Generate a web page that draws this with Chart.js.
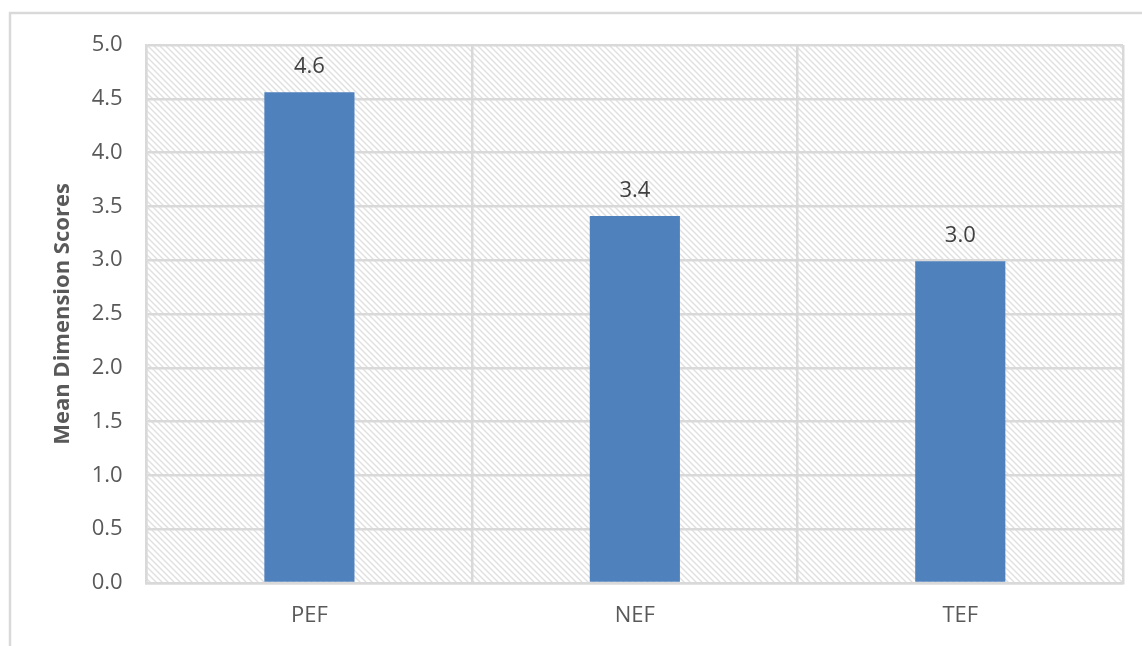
<!DOCTYPE html>
<html>
<head>
<meta charset="utf-8">
<title>Mean Dimension Scores</title>
<script src="https://cdn.jsdelivr.net/npm/chart.js@4/dist/chart.umd.min.js"></script>
<style>
  html, body { margin: 0; padding: 0; background: #ffffff; }
  #wrap { position: relative; width: 1142px; height: 646px; }
</style>
</head>
<body>
<div id="wrap"><canvas id="chart" width="1142" height="646"></canvas></div>
<script>
// Dimension categories and their mean scores
const categories = ['PEF', 'NEF', 'TEF'];
const meanScores = [4.56, 3.41, 2.99];
const yTickValues = [0, 0.5, 1, 1.5, 2, 2.5, 3, 3.5, 4, 4.5, 5];
const yAxisTitle = 'Mean Dimension Scores';

const FONT = '"Open Sans", "DejaVu Sans", sans-serif';
const GRID = '#d9d9d9';

// Diagonal hatch tile for the plot background
function makeHatch() {
  const s = 6;
  const c = document.createElement('canvas');
  c.width = s; c.height = s;
  const g = c.getContext('2d');
  g.fillStyle = '#ffffff';
  g.fillRect(0, 0, s, s);
  g.strokeStyle = '#e0e0e0';
  g.lineWidth = 1.4;
  g.beginPath();
  g.moveTo(-1, -1); g.lineTo(s + 1, s + 1);
  g.moveTo(-1, s - 1); g.lineTo(1, s + 1);
  g.moveTo(s - 1, -1); g.lineTo(s + 1, 1);
  g.stroke();
  return g.createPattern(c, 'repeat');
}

const backdrop = {
  id: 'backdrop',
  beforeDraw(chart) {
    const { ctx, chartArea: a } = chart;
    ctx.save();
    ctx.fillStyle = '#ffffff';
    ctx.fillRect(0, 0, chart.width, chart.height);
    // outer frame
    ctx.strokeStyle = GRID;
    ctx.lineWidth = 2.5;
    ctx.beginPath();
    ctx.moveTo(10, chart.height + 5);
    ctx.lineTo(10, 13);
    ctx.lineTo(chart.width + 5, 13);
    ctx.stroke();
    // hatched plot area
    ctx.fillStyle = makeHatch();
    ctx.fillRect(a.left, a.top, a.right - a.left, a.bottom - a.top);
    ctx.restore();
  }
};

const valueLabels = {
  id: 'valueLabels',
  afterDatasetsDraw(chart) {
    const { ctx } = chart;
    const meta = chart.getDatasetMeta(0);
    ctx.save();
    ctx.font = '22px ' + FONT;
    ctx.fillStyle = '#404040';
    ctx.textAlign = 'center';
    ctx.textBaseline = 'alphabetic';
    meta.data.forEach((bar, i) => {
      const v = chart.data.datasets[0].data[i];
      ctx.fillText(v.toFixed(1), bar.x, bar.y - 19);
    });
    ctx.restore();
  }
};

new Chart(document.getElementById('chart'), {
  type: 'bar',
  data: {
    labels: categories,
    datasets: [{
      data: meanScores,
      backgroundColor: '#4f81bd',
      borderWidth: 0,
      categoryPercentage: 1,
      barPercentage: 0.277
    }]
  },
  options: {
    responsive: false,
    animation: false,
    events: [],
    layout: { padding: { top: 45, right: 19, bottom: 0, left: 0 } },
    plugins: { legend: { display: false }, tooltip: { enabled: false } },
    scales: {
      x: {
        grid: { color: GRID, lineWidth: 2.5, drawTicks: false, offset: true },
        border: { display: true, color: GRID, width: 2.5 },
        ticks: { color: '#595959', font: { family: FONT, size: 22 }, padding: 20 },
        afterFit(s) { s.height = 63; }
      },
      y: {
        min: 0,
        max: 5,
        afterBuildTicks(s) { s.ticks = yTickValues.map(v => ({ value: v })); },
        grid: { color: GRID, lineWidth: 2.5, drawTicks: false },
        border: { display: true, color: GRID, width: 2.5 },
        ticks: {
          color: '#595959',
          font: { family: FONT, size: 22 },
          padding: 24,
          callback: v => Number(v).toFixed(1)
        },
        title: {
          display: true,
          text: yAxisTitle,
          color: '#595959',
          font: { family: FONT, size: 22, weight: 'bold' },
          padding: { top: 50, bottom: 0 }
        },
        afterFit(s) { s.width = 146.7; }
      }
    }
  },
  plugins: [backdrop, valueLabels]
});
</script>
</body>
</html>
